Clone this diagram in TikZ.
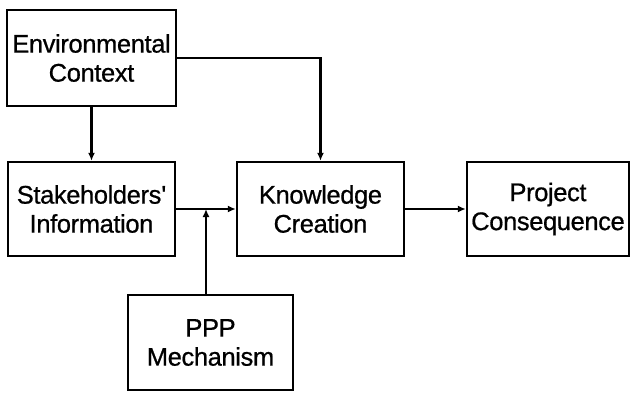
\documentclass[tikz,border=0pt]{standalone}
\usepackage{fontspec}
\setmainfont{Liberation Sans}[FakeBold=0.7]
\usetikzlibrary{arrows.meta}
\begin{document}
\begin{tikzpicture}[x=1pt,y=-1pt,
  box/.style={draw,line width=2.4pt,align=center,inner sep=0pt,
    font=\fontsize{25.5}{29}\selectfont\addfontfeature{LetterSpace=-1.5}},
  conn/.style={line width=2.2pt,-{Latex[length=8pt,width=7pt]}}]
\useasboundingbox (0,0) rectangle (630,392);
\node[box,minimum width=169pt,minimum height=96pt] (env) at (91.5,58) {Environmental\\Context};
\node[box,minimum width=167pt,minimum height=94pt] (stake) at (91.5,209) {Stakeholders\textquotesingle\\Information};
\node[box,minimum width=167pt,minimum height=94pt] (know) at (320.5,209) {Knowledge\\Creation};
\node[box,minimum width=162pt,minimum height=94pt] (proj) at (548,209) {Project\\Consequence};
\node[box,minimum width=165pt,minimum height=95pt] (ppp) at (210.5,342.5) {PPP\\Mechanism};
\coordinate (pin) at (206,209);
\draw[conn] (env.south) -- (stake.north);
\draw[conn] (env.east) -| (know.north);
\draw[conn] (stake.east) -- (know.west);
\draw[conn] (know.east) -- (proj.west);
\draw[conn] (ppp.north -| pin) -- (pin);
\end{tikzpicture}
\end{document}
